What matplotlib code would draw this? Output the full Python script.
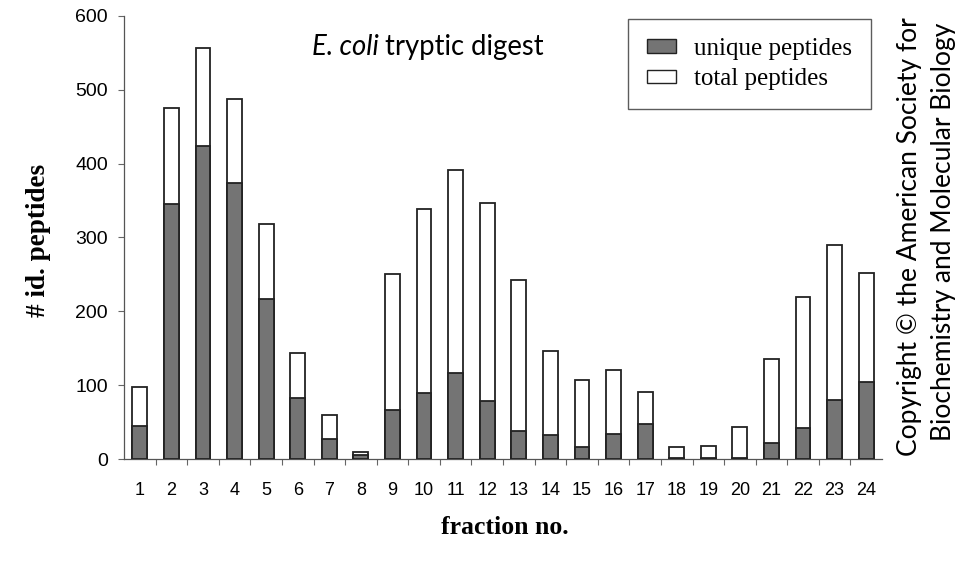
import matplotlib.pyplot as plt
import numpy as np
from matplotlib.patches import Patch

fractions = list(range(1, 25))
total_peptides = [97, 475, 556, 488, 318, 144, 60, 9, 250, 338, 391, 347,
                  243, 146, 107, 120, 91, 16, 18, 43, 135, 220, 290, 252]
unique_peptides = [45, 345, 424, 374, 217, 83, 27, 5, 67, 89, 116, 78,
                   38, 32, 16, 34, 47, 2, 2, 2, 21, 42, 80, 104]
y_ticks = [0, 100, 200, 300, 400, 500, 600]

gray = '#747474'
sans = 'Liberation Sans'
serif = 'Liberation Serif'
calibri_like = 'Lato'

fig = plt.figure(figsize=(9.56, 5.67), dpi=100)
ax = fig.add_axes([124/956, 1 - 459/567, 758/956, 443/567])

x = np.array(fractions)
ax.bar(x, total_peptides, width=0.47, color='white', edgecolor='#222222', linewidth=1.3, zorder=2)
ax.bar(x, unique_peptides, width=0.47, color=gray, edgecolor='#222222', linewidth=1.3, zorder=3)

ax.set_xlim(0.5, 24.5)
ax.set_ylim(0, 600)
ax.set_yticks(y_ticks)
ax.set_yticklabels([str(v) for v in y_ticks], fontfamily=sans, fontsize=14)
ax.set_xticks(x)
ax.set_xticklabels([str(v) for v in fractions], fontfamily=sans, fontsize=13)
ax.set_xticks(np.arange(1.5, 24.5, 1), minor=True)
ax.tick_params(axis='x', which='major', length=0, pad=16.5)
ax.tick_params(axis='x', which='minor', length=4.5, width=0.8, color='#666666', direction='out')
ax.tick_params(axis='y', length=4.5, width=0.8, color='#666666', direction='out', pad=7)

for side in ['top', 'right']:
    ax.spines[side].set_visible(False)
for side in ['left', 'bottom']:
    ax.spines[side].set_color('#555555')
    ax.spines[side].set_linewidth(0.9)

fig.text(39/956, 1 - 240/567, '# id. peptides', rotation=90, ha='center', va='center',
         fontfamily=serif, fontweight='bold', fontsize=19.5)
fig.text(505/956, 1 - 527/567, 'fraction no.', ha='center', va='center',
         fontfamily=serif, fontweight='bold', fontsize=18.5)

# title: italic species name followed by upright text
renderer = fig.canvas.get_renderer()
t1 = fig.text(312/956, 1 - 47/567, 'E. coli', ha='left', va='center',
              fontfamily=calibri_like, fontstyle='italic', fontsize=19.8)
bb = t1.get_window_extent(renderer)
fig.text((bb.x1 + 6) / 956, 1 - 47/567, 'tryptic digest', ha='left', va='center',
         fontfamily=calibri_like, fontsize=19.8)

handles = [Patch(facecolor=gray, edgecolor='#222222', label='unique peptides'),
           Patch(facecolor='white', edgecolor='#222222', label='total peptides')]
leg = fig.legend(handles=handles, loc='upper left',
                 bbox_to_anchor=(628/956, 1 - 19/567), fancybox=False,
                 prop={'family': serif, 'size': 18}, handlelength=1.15, handleheight=0.45,
                 borderpad=0.75, labelspacing=0.35, borderaxespad=0, handletextpad=0.75)
leg.get_frame().set_edgecolor('#333333')
leg.get_frame().set_linewidth(1.0)

fig.text(910/956, 1 - 237/567, 'Copyright \u00a9 the American Society for', rotation=90,
         ha='center', va='center', fontfamily=calibri_like, fontsize=19)
fig.text(943/956, 1 - 232/567, 'Biochemistry and Molecular Biology', rotation=90,
         ha='center', va='center', fontfamily=calibri_like, fontsize=19)

fig.savefig('out.png', dpi=100)
